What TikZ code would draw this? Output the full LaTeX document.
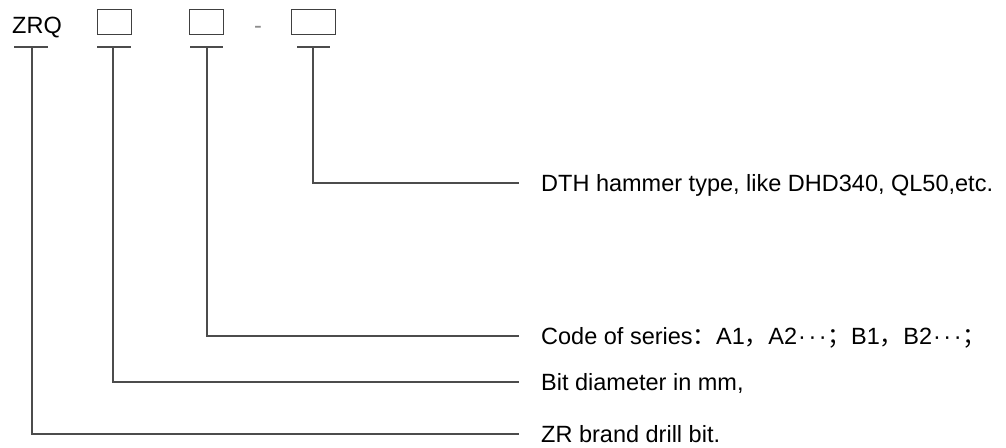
\documentclass[tikz,border=0pt]{standalone}
\usepackage{fontspec}
\setmainfont{Liberation Sans}
\newfontfamily\cjk{Noto Sans CJK SC}
\newcommand{\mydots}{\kern1pt·\kern2.5pt·\kern2.5pt·\kern1pt}
\begin{document}
\begin{tikzpicture}[x=1pt,y=-1pt,
  lbl/.style={anchor=base west,inner sep=0pt,font=\fontsize{23.5}{28}\selectfont},
  ln/.style={draw=black!70,line width=1.1pt},
  bx/.style={draw=black!75,line width=1pt}]
\useasboundingbox (0,0) rectangle (1006,447);
% header
\node[lbl] (zrq) at (12,33) {ZRQ};
\draw[bx] (97,9) rectangle (131,34);
\draw[bx] (189,9) rectangle (223,34);
\node[lbl,text=black!45] (dash) at (254,33) {-};
\draw[bx] (291,9) rectangle (335,34);
% T bars
\coordinate (t0) at (32,47);
\coordinate (t1) at (113,47);
\coordinate (t2) at (207,47);
\coordinate (t3) at (313,47);
\draw[ln] (14,47) -- (48,47);
\draw[ln] (97,47) -- (131,47);
\draw[ln] (190,47) -- (223,47);
\draw[ln] (297,47) -- (330,47);
% endpoints
\coordinate (e3) at (519,183);
\coordinate (e2) at (519,336);
\coordinate (e1) at (519,382);
\coordinate (e0) at (519,434);
\draw[ln] (t3) |- (e3);
\draw[ln] (t2) |- (e2);
\draw[ln] (t1) |- (e1);
\draw[ln] (t0) |- (e0);
% labels
\node[lbl] (l3) at (541,191) {DTH hammer type, like DHD340, QL50,etc.};
\node[lbl] (l2) at (541,344) {Code of series{\cjk ：}A1{\cjk ，}A2\mydots{\cjk ；}B1{\cjk ，}B2\mydots{\cjk ；}};
\node[lbl] (l1) at (541,390) {Bit diameter in mm,};
\node[lbl] (l0) at (541,442) {ZR brand drill bit.};
\end{tikzpicture}
\end{document}
